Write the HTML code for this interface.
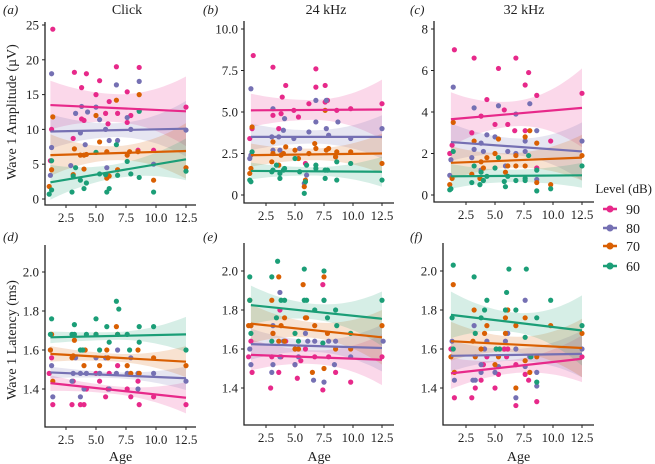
<!DOCTYPE html>
<html><head><meta charset="utf-8"><style>
body{margin:0;background:#fff;}
svg{display:block;}
svg text{font-family:"Liberation Serif","Times New Roman",serif;}
</style></head><body>
<svg id="chart" width="655" height="464" font-family="Liberation Serif, serif"></svg>
<script>
const levels=["90","80","70","60"];
const colors=["#e7298a","#7570b3","#d95f02","#1b9e77"];
const panelIds=["a","b","c","d","e","f"];
const panelTitles=["Click","24 kHz","32 kHz","","",""];
// regression lines: [start value at age 1.2, end value at 12.5] per level
const lineA=[[13.5,12.6],[9.7,10.1],[6.3,6.9],[2.4,5.7]];
const lineB=[[5.1,5.15],[3.5,3.5],[2.4,2.5],[1.45,1.4]];
const lineC=[[3.65,4.2],[2.55,2.1],[1.55,1.8],[0.9,0.95]];
const lineD=[[1.43,1.355],[1.485,1.455],[1.58,1.54],[1.665,1.68]];
const lineE=[[1.57,1.545],[1.625,1.605],[1.73,1.66],[1.825,1.755]];
const lineF=[[1.475,1.55],[1.565,1.575],[1.64,1.605],[1.775,1.695]];
// CI half-widths: [start, min (middle), end]
const bandA=[[3.5,2,5],[2.5,1,4],[3,1,4],[2.5,1,3]];
const bandB=[[1,0.6,1.8],[0.8,0.4,1.3],[0.7,0.35,1.2],[0.5,0.25,0.9]];
const bandC=[[1.3,0.6,1.9],[0.9,0.4,1.4],[0.8,0.35,1.1],[0.6,0.3,0.6]];
const bandD=[[0.04,0.02,0.08],[0.03,0.015,0.06],[0.04,0.02,0.08],[0.03,0.02,0.09]];
const bandE=[[0.08,0.035,0.13],[0.08,0.03,0.12],[0.1,0.04,0.14],[0.1,0.04,0.14]];
const bandF=[[0.08,0.035,0.12],[0.08,0.03,0.12],[0.1,0.04,0.15],[0.12,0.05,0.18]];
// points [age, value] per level (90,80,70,60)
const ptsA=[
[[1.4,24.4],[1.3,10],[1.2,5.5],[3.2,18.2],[3.8,16],[4.2,18],[3.8,11.5],[4,11.3],[5,15],[5.3,17],[3.1,8.7],[6.1,14],[6,10.8],[5.8,12.3],[6.7,19],[6.8,12.3],[7.6,15.4],[7.9,12],[7.6,11],[8.6,18.9],[12.5,13.2],[8.5,7],[9.8,7]],
[[1.3,18],[1.3,7.4],[1.2,3.4],[3.8,13.3],[3.3,12.3],[3.7,9.5],[4.1,7.8],[4.3,12.5],[5,13.2],[5.3,11.4],[5.8,10],[6.7,16.4],[6.8,8.4],[6.1,8.4],[7.6,11.7],[7.9,10],[8.6,16.9],[8.6,12.7],[9.8,5],[12.5,9.9],[5.9,4.5],[2.9,4.8]],
[[1.4,11.8],[1.3,4.2],[1.1,1.8],[3.2,7.2],[3.7,6.3],[4,6.3],[4.2,6.4],[3.1,3.5],[4,4.3],[5,12],[5.3,8.2],[5.9,6.8],[6.7,14.2],[6.1,3.3],[5.9,3],[6.8,4.2],[7.6,6.3],[7.8,6.8],[8.6,15],[8.5,6.8],[9.8,2.7],[12.5,4.5]],
[[1.3,5.5],[1.3,1.3],[1.1,0.7],[3,1],[3.1,3.3],[3.3,4.5],[3.7,2.7],[4,1.5],[4.2,2.3],[5,6.7],[5.3,3.6],[5.8,3.5],[5.9,1],[6.1,1.5],[6.7,7.8],[6.8,3.4],[7.6,5.4],[7.9,3.6],[8.6,12.6],[8.6,3.1],[9.8,1],[12.5,4]]];
const ptsB=[
[[1.4,8.4],[1.1,3.4],[1.3,4.0],[3.1,7.7],[3.1,4.8],[3.8,4.9],[3.9,5.9],[4.2,6.6],[4.9,5.1],[5.3,4.7],[6.2,5.5],[6.8,7.6],[6.8,6.5],[7.6,6.6],[7.6,5.6],[7.8,5.7],[8.6,5.1],[9.8,5.2],[12.5,5.5],[3.6,4],[5.9,1.9]],
[[1.2,6.4],[1.1,2.2],[1.2,2.4],[3.1,5.2],[3,3.5],[3.1,2.7],[3.6,3.5],[3.7,2.7],[4,3.9],[4.1,4.6],[4.9,3.4],[5.4,2.8],[6.2,3.8],[6.8,4.4],[6.8,5.7],[7.7,4],[7.7,5.7],[7.9,3.6],[8.7,4.4],[9.8,3.4],[12.5,4.0],[5.8,0.7],[6,1.2],[8.5,2.3]],
[[1.3,4.1],[1.1,1.3],[1.2,1.6],[3.1,3.2],[3.1,2.5],[3,2.0],[3.6,1.8],[3.8,2.4],[4.0,2.5],[4.2,2.9],[5,2.7],[5.3,2.2],[5.9,0.9],[5.8,0.5],[6.2,2.5],[6.7,3.1],[6.8,2.8],[7.6,5.1],[7.7,2.7],[7.9,2.8],[8.6,2.6],[8.5,2.3],[9.8,2.6],[12.5,1.9]],
[[1.1,0.9],[1.2,0.8],[1.3,2.6],[3.1,1.5],[3,1.4],[3.4,1.8],[3.7,1.3],[3.7,1],[4,1.5],[4.1,1.6],[5,2.2],[5.4,1.4],[5.8,0.1],[6,1.8],[5.9,0.8],[6.8,1.8],[6.8,1.6],[7.6,1],[7.6,1.5],[7.8,1.5],[8.6,2],[8.6,0.9],[9.8,1.9],[12.5,0.9]]];
const ptsC=[
[[1.5,7],[1.3,2.4],[1.1,2],[3.2,6.6],[3,3],[3.8,3.8],[4.3,4.6],[5.3,6.1],[5.8,4.1],[6.1,3.4],[5,3.4],[6.8,6.6],[6.7,3.1],[7.6,5.3],[7.9,5.9],[7.6,3.1],[8.6,4.8],[8.6,1.3],[9.8,2.6],[12.5,4.9]],
[[1.4,5.2],[1.2,1.7],[1.1,0.95],[3.2,4.2],[3.2,2.2],[3,1.8],[3.8,2.5],[3.8,1.2],[4,2.1],[4.3,2.9],[5.3,4.3],[5,2.8],[5.9,1.4],[6.1,2.1],[6.8,3.9],[6.8,2],[7.6,2.6],[7.6,2.1],[8,4.4],[8.6,3.1],[8.6,0.75],[12.5,2.6]],
[[1.4,3.5],[1.3,0.8],[1.1,0.5],[3.2,2.6],[3,1.0],[3.8,1.6],[3.7,0.8],[4,1.3],[4.3,1.8],[5.3,2.7],[5,2],[6.1,1.4],[5.9,1.1],[6.8,1.9],[6.8,1.4],[7.6,2.8],[7.6,1.4],[8,3.1],[8.6,2.5],[8.6,0.6],[9.8,0.5],[12.5,1.9]],
[[1.4,2.1],[1.2,0.3],[1.1,0.25],[3.2,1.4],[3,0.6],[3.8,1.1],[3.7,0.5],[4,0.7],[4.3,0.9],[5.3,1.8],[5,1.3],[6.1,0.9],[5.9,0.4],[5.8,0.65],[6.8,0.7],[7.6,0.8],[7.6,0.7],[7.9,1.9],[8.6,1.2],[8.6,0.2],[9.8,0.3],[12.5,1.4]]];
const ptsD=[
[[1.3,1.56],[1.1,1.48],[1.4,1.32],[3,1.32],[3.1,1.44],[3.7,1.32],[4,1.32],[4.2,1.4],[5,1.48],[5.3,1.44],[5.8,1.36],[6,1.4],[6.1,1.48],[6.8,1.52],[7.6,1.4],[7.9,1.36],[8.5,1.44],[8.6,1.32],[9.8,1.36],[12.5,1.32]],
[[1.3,1.52],[1.4,1.36],[1.2,1.6],[3.1,1.48],[3,1.44],[3.3,1.56],[3.7,1.36],[3.7,1.48],[4,1.4],[4.2,1.48],[5,1.56],[5.3,1.48],[5.8,1.56],[6.1,1.4],[6.8,1.6],[6.7,1.48],[7.6,1.48],[7.9,1.56],[8.5,1.4],[8.5,1.48],[9.8,1.48],[12.5,1.44]],
[[1.2,1.6],[1.3,1.68],[1.4,1.44],[3.2,1.65],[3,1.56],[3.1,1.57],[4.1,1.6],[4,1.52],[5,1.68],[5.3,1.52],[5.9,1.6],[6,1.56],[6.7,1.72],[6.8,1.68],[7.6,1.52],[7.9,1.48],[8.5,1.6],[8.6,1.48],[9.8,1.56],[12.5,1.52]],
[[1.3,1.76],[1.2,1.68],[3.2,1.73],[3,1.68],[3.2,1.68],[3.9,1.6],[3.7,1.6],[4.2,1.68],[5,1.76],[5,1.68],[5.3,1.6],[5.9,1.72],[6.1,1.64],[6.7,1.85],[6.9,1.81],[6.8,1.68],[7.6,1.68],[7.8,1.6],[8.6,1.72],[8.6,1.64],[9.8,1.72],[12.5,1.6]]];
const ptsE=[
[[1,1.56],[1.2,1.64],[1.3,1.48],[2.9,1.4],[3,1.56],[3.1,1.68],[3.6,1.48],[3.7,1.8],[3.8,1.56],[4.2,1.64],[5,1.52],[5.2,1.45],[5.5,1.54],[5.9,1.6],[6.7,1.56],[7.4,1.93],[7.4,1.39],[7.9,1.56],[8.5,1.48],[9.8,1.43],[12.5,1.56]],
[[1.1,1.6],[1.2,1.52],[1.2,1.72],[3,1.48],[3.1,1.52],[3.1,1.72],[3.7,1.89],[3.7,1.56],[4,1.64],[4.1,1.64],[5,1.52],[5.3,1.56],[5.9,1.68],[6.1,1.64],[6.7,1.64],[6.6,1.44],[7.5,1.85],[7.5,1.43],[7.9,1.64],[8.4,1.52],[8.5,1.64],[9.8,1.56],[12.6,1.64]],
[[1,1.72],[1.1,1.85],[1.2,1.72],[3,1.85],[3.1,1.68],[3.6,1.97],[3.6,1.64],[3.8,1.72],[4.1,1.76],[4.1,1.64],[5,1.6],[5.3,1.6],[5.7,1.93],[5.9,1.76],[6,1.76],[6.7,1.72],[6.5,1.48],[7.5,1.97],[7.5,1.5],[7.8,1.68],[8.5,1.6],[9.8,1.6],[12.5,1.72]],
[[1.1,1.97],[1.1,1.85],[1.2,1.68],[3,1.97],[3,1.64],[3.5,2.05],[3.4,1.76],[3.8,1.85],[4.1,1.85],[5,1.68],[5.3,1.64],[5.8,2.01],[5.8,1.85],[6,1.85],[6.7,1.8],[7.5,2.0],[7.5,1.85],[7.8,1.76],[7.4,1.63],[8.5,1.8],[8.6,1.72],[9.8,1.68],[12.5,1.85]]];
const ptsF=[
[[1.2,1.6],[1.5,1.35],[3,1.35],[3.3,1.4],[3.8,1.44],[4,1.52],[4.3,1.56],[5,1.4],[5.3,1.47],[5.8,1.6],[6,1.56],[6.1,1.6],[6.8,1.31],[6.8,1.52],[7.6,1.47],[7.9,1.44],[8.6,1.33],[12.5,1.56]],
[[1.3,1.64],[1.5,1.44],[3.2,1.72],[3.3,1.44],[3.1,1.44],[3.8,1.52],[3.8,1.48],[4.1,1.6],[4.3,1.64],[5,1.48],[5.3,1.51],[5.9,1.64],[6.1,1.68],[6.8,1.6],[6.8,1.35],[7.6,1.85],[7.6,1.51],[8,1.56],[8.6,1.48],[8.6,1.41],[12.5,1.6]],
[[1.4,1.93],[1.2,1.56],[1.5,1.48],[3.2,1.8],[3.1,1.64],[3.3,1.56],[3.8,1.6],[4.1,1.68],[4.3,1.72],[5,1.52],[5.3,1.56],[5.9,1.76],[6.1,1.8],[5.9,1.68],[6.8,1.4],[6.8,1.72],[7.6,1.76],[7.6,1.54],[8,1.48],[8.6,1.56],[9.8,1.72],[12.5,1.68]],
[[1.4,2.03],[1.3,1.76],[1.4,1.6],[3.2,1.97],[3.3,1.68],[3.8,1.76],[4.1,1.8],[4.3,1.85],[5.1,1.6],[5.4,1.6],[5.9,1.8],[6,1.89],[6.2,2.01],[6.8,1.8],[7.7,2.01],[7.6,1.66],[8.1,1.56],[8.6,1.76],[8.6,1.43],[9.8,1.85],[12.5,1.72]]];
const xTickVals=[2.5,5,7.5,10,12.5];
const xTickLabels=["2.5","5.0","7.5","10.0","12.5"];
const yTicksA=[0,5,10,15,20,25], yLabA=["0","5","10","15","20","25"];
const yTicksB=[0,2.5,5,7.5,10], yLabB=["0","2.5","5.0","7.5","10.0"];
const yTicksC=[0,2,4,6,8], yLabC=["0","2","4","6","8"];
const yTicksL=[1.4,1.6,1.8,2.0], yLabL=["1.4","1.6","1.8","2.0"];

const NS="http://www.w3.org/2000/svg";
const svg=document.getElementById('chart');
const FONT='"Liberation Serif", "Times New Roman", serif';
function mk(tag,attrs,parent){const e=document.createElementNS(NS,tag);for(const k in attrs)e.setAttribute(k,attrs[k]);if(tag==='text')e.setAttribute('font-family',FONT);(parent||svg).appendChild(e);return e;}

const panels=[
 {ax:45,x0:66,xs:12,yf:v=>199-v*174/25,top:22,bot:205,right:196,ticks:yTicksA,labs:yLabA,pts:ptsA,line:lineA,band:bandA,lx:3,ly:14,tx:127},
 {ax:244,x0:266,xs:11.6,yf:v=>195-v*16.6,top:21,bot:203,right:394,ticks:yTicksB,labs:yLabB,pts:ptsB,line:lineB,band:bandB,lx:203,ly:14,tx:326},
 {ax:434,x0:466,xs:11.6,yf:v=>195-v*20.75,top:21,bot:202,right:594,ticks:yTicksC,labs:yLabC,pts:ptsC,line:lineC,band:bandC,lx:410,ly:14,tx:524},
 {ax:45,x0:66,xs:12,yf:v=>272-(v-2)*195,top:245,bot:427,right:196,ticks:yTicksL,labs:yLabL,pts:ptsD,line:lineD,band:bandD,lx:3,ly:241,tx:0},
 {ax:244,x0:266,xs:11.6,yf:v=>271-(v-2)*195,top:243,bot:425,right:394,ticks:yTicksL,labs:yLabL,pts:ptsE,line:lineE,band:bandE,lx:203,ly:241,tx:0},
 {ax:443,x0:466,xs:11.6,yf:v=>271-(v-2)*195,top:243,bot:425,right:594,ticks:yTicksL,labs:yLabL,pts:ptsF,line:lineF,band:bandF,lx:410,ly:241,tx:0}];

panels.forEach((p,pi)=>{
  const g=mk('g',{});
  
  
  const xf=a=>p.x0+(a-2.5)*p.xs;
  const a0=1.2,a1=12.5,am=6.5;
  p.line.forEach((ln,li)=>{
    const b=p.band[li];
    const up=[],dn=[];
    for(let i=0;i<=30;i++){
      const a=a0+(a1-a0)*i/30;
      const v=ln[0]+(ln[1]-ln[0])*(a-a0)/(a1-a0);
      const k=a<am?(b[0]-b[1])/Math.pow(am-a0,2):(b[2]-b[1])/Math.pow(a1-am,2);
      const hw=b[1]+k*Math.pow(a-am,2);
      up.push(xf(a).toFixed(1)+','+p.yf(v+hw).toFixed(1));
      dn.unshift(xf(a).toFixed(1)+','+p.yf(v-hw).toFixed(1));
    }
    const band=mk('polygon',{points:up.concat(dn).join(' '),fill:colors[li],'fill-opacity':0.18},g);
    
    
  });
  p.pts.forEach((ser,li)=>{ser.forEach(pt=>{
    const c=mk('circle',{cx:xf(pt[0]),cy:p.yf(pt[1]),r:2.6,fill:colors[li]},g);
    
    
  });});
  p.line.forEach((ln,li)=>{
    const l=mk('line',{x1:xf(a0),y1:p.yf(ln[0]),x2:xf(a1),y2:p.yf(ln[1]),stroke:colors[li],'stroke-width':2.2},g);
    
    
  });
  const axes=mk('path',{d:`M${p.ax},${p.top}V${p.bot}H${p.right}`,stroke:'#222',fill:'none','stroke-width':1.3},g);
  
  
  p.ticks.forEach((t,i)=>{
    const y=p.yf(t);
    mk('line',{x1:p.ax-3,x2:p.ax,y1:y,y2:y,stroke:'#222'},g);
    const tx=mk('text',{x:p.ax-6,y:y+4.5,'text-anchor':'end','font-size':13,fill:'#222'},g);
    tx.textContent=p.labs[i];
    
    
  });
  xTickVals.forEach((t,i)=>{
    const x=xf(t);
    mk('line',{x1:x,x2:x,y1:p.bot,y2:p.bot+3,stroke:'#222'},g);
    const tx=mk('text',{x:x,y:p.bot+17,'text-anchor':'middle','font-size':13,fill:'#222'},g);
    tx.textContent=xTickLabels[i];
    
    
  });
  const pl=mk('text',{x:p.lx,y:p.ly,'font-size':13,'font-style':'italic',fill:'#222'},g);
  pl.textContent='('+panelIds[pi]+')';
  
  
  if(panelTitles[pi]){
    const t=mk('text',{x:p.tx,y:14,'text-anchor':'middle','font-size':14,fill:'#222'},g);
    t.textContent=panelTitles[pi];
    
    
  }
  if(pi>=3){
    const t=mk('text',{x:(p.ax+p.right)/2,y:461,'text-anchor':'middle','font-size':14,fill:'#222'},g);
    t.textContent='Age';
    
    
  }
});
const yt1=mk('text',{x:0,y:0,'text-anchor':'middle','font-size':14,fill:'#222',transform:'translate(16,112) rotate(-90)'});
yt1.textContent='Wave 1 Amplitude (µV)';


const yt2=mk('text',{x:0,y:0,'text-anchor':'middle','font-size':14,fill:'#222',transform:'translate(16,340) rotate(-90)'});
yt2.textContent='Wave 1 Latency (ms)';


const lg=mk('g',{});


const lt=mk('text',{x:652,y:193,'text-anchor':'end','font-size':13,fill:'#222'},lg);
lt.textContent='Level (dB)';


const legY=[209,228,246,266];
levels.forEach((lv,i)=>{
  const e=mk('g',{},lg);
  
  
  mk('line',{x1:603,x2:617,y1:legY[i],y2:legY[i],stroke:colors[i],'stroke-width':2.5},e);
  mk('circle',{cx:610,cy:legY[i],r:3.5,fill:colors[i]},e);
  const t=mk('text',{x:626,y:legY[i]+5,'font-size':14,fill:'#222'},e);
  t.textContent=lv;
});
</script>
</body></html>
